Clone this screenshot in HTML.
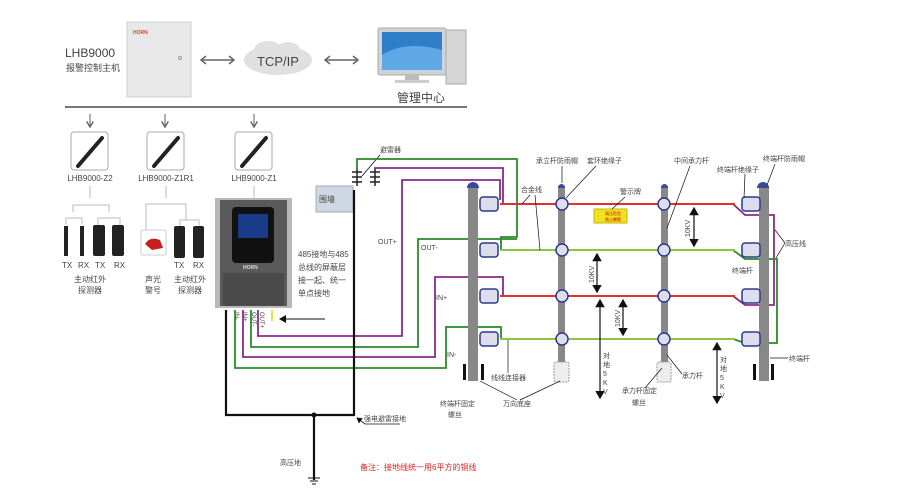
<!DOCTYPE html>
<html><head><meta charset="utf-8"><style>
html,body{margin:0;padding:0;background:#fff}
svg{display:block}
text{font-family:"Liberation Sans","Noto Sans CJK SC",sans-serif;fill:#444}
</style></head><body>
<svg width="900" height="500" viewBox="0 0 900 500" xmlns="http://www.w3.org/2000/svg">
<defs>
<marker id="ah" markerWidth="8" markerHeight="8" refX="6" refY="4" orient="auto"><path d="M0,0 L7,4 L0,8 z" fill="#111"/></marker>
<marker id="ahs" markerWidth="8" markerHeight="8" refX="1" refY="4" orient="auto"><path d="M7,0 L0,4 L7,8 z" fill="#111"/></marker>
<marker id="ga" markerWidth="6" markerHeight="6" refX="5" refY="3" orient="auto"><path d="M0,0 L5,3 L0,6" fill="none" stroke="#666" stroke-width="1.2"/></marker>
</defs>

<text x="65" y="57" font-size="12" fill="#333">LHB9000</text>
<text x="66" y="71" font-size="9" fill="#333">报警控制主机</text>
<rect x="127" y="22" width="64" height="75" fill="#e8e8e8" stroke="#d0d0d0"/>
<text x="133" y="34" font-size="5" fill="#e04020" font-weight="bold" style="fill:#e04020">HORN</text>
<circle cx="180" cy="58" r="1.5" fill="none" stroke="#999"/>
<g stroke="#666" stroke-width="1.5" fill="none">
<line x1="202" y1="60" x2="233" y2="60"/><path d="M206,56 L201,60 L206,64 M229,56 L234,60 L229,64"/>
<line x1="326" y1="60" x2="357" y2="60"/><path d="M330,56 L325,60 L330,64 M353,56 L358,60 L353,64"/>
</g>
<ellipse cx="278" cy="60" rx="34" ry="15" fill="#e0e0e0"/>
<ellipse cx="268" cy="50" rx="14" ry="9" fill="#e0e0e0"/><ellipse cx="288" cy="50" rx="12" ry="8" fill="#e0e0e0"/>
<text x="278" y="66" font-size="13" text-anchor="middle" fill="#222">TCP/IP</text>
<rect x="378" y="28" width="68" height="47" rx="2" fill="#cfd3d8" stroke="#aaa"/>
<rect x="382" y="32" width="60" height="38" fill="#2f7fc8"/>
<path d="M382,55 Q405,40 442,50 L442,70 L382,70z" fill="#5ea8e6"/>
<rect x="405" y="75" width="14" height="6" fill="#bbb"/><rect x="395" y="80" width="34" height="3" fill="#ccc"/>
<rect x="446" y="30" width="20" height="54" fill="#d6d6d6" stroke="#aaa"/>
<text x="397" y="102" font-size="12" fill="#333">管理中心</text>
<line x1="65" y1="107" x2="467" y2="107" stroke="#777" stroke-width="2"/>

<g stroke="#777" stroke-width="1.2">
<line x1="90" y1="114" x2="90" y2="127" marker-end="url(#ga)"/>
<line x1="165" y1="114" x2="165" y2="127" marker-end="url(#ga)"/>
<line x1="254" y1="114" x2="254" y2="127" marker-end="url(#ga)"/>
</g>
<g fill="#fff" stroke="#aaa">
<rect x="71" y="132" width="37" height="38" rx="3"/><rect x="147" y="132" width="37" height="38" rx="3"/><rect x="235" y="132" width="37" height="38" rx="3"/>
</g>
<g stroke="#222" stroke-width="4" stroke-linecap="round">
<line x1="78" y1="166" x2="102" y2="138"/><line x1="154" y1="166" x2="178" y2="138"/><line x1="242" y1="166" x2="266" y2="138"/>
</g>
<text x="90" y="181" font-size="8" text-anchor="middle">LHB9000-Z2</text>
<text x="166" y="181" font-size="8" text-anchor="middle">LHB9000-Z1R1</text>
<text x="254" y="181" font-size="8" text-anchor="middle">LHB9000-Z1</text>
<g stroke="#bbb" fill="none">
<path d="M90,186 V198 M73,212 V205 H109 V212 M66,225 V218 H82 V225 M98,225 V218 H120 V225"/>
<path d="M166,186 V198 M146,232 V204 H186 V220 M180,226 V220 H199 V226"/>
<path d="M254,186 V198"/>
</g>
<g fill="#222">
<rect x="64" y="226" width="4" height="30"/><rect x="80" y="226" width="4" height="30"/>
<rect x="93" y="225" width="12" height="31" rx="2"/><rect x="112" y="225" width="12" height="31" rx="2"/>
<rect x="174" y="226" width="11" height="32" rx="2"/><rect x="193" y="226" width="11" height="32" rx="2"/>
</g>
<rect x="141" y="230" width="25" height="25" rx="2" fill="#fff" stroke="#ccc"/>
<path d="M145,244 Q150,236 160,240 L163,248 L152,250z" fill="#c81e1e"/>
<g font-size="8">
<text x="62" y="268">TX</text><text x="78" y="268">RX</text><text x="95" y="268">TX</text><text x="114" y="268">RX</text>
<text x="174" y="268">TX</text><text x="193" y="268">RX</text>
<text x="90" y="282" text-anchor="middle">主动红外</text><text x="90" y="293" text-anchor="middle">探测器</text>
<text x="153" y="282" text-anchor="middle">声光</text><text x="153" y="293" text-anchor="middle">警号</text>
<text x="190" y="282" text-anchor="middle">主动红外</text><text x="190" y="293" text-anchor="middle">探测器</text>
</g>

<rect x="215" y="198" width="77" height="110" fill="#b8b8b8"/>
<rect x="220" y="200" width="67" height="106" fill="#5a5a5a"/>
<rect x="223" y="273" width="61" height="33" fill="#4a4a4a"/>
<rect x="232" y="207" width="42" height="56" rx="4" fill="#111"/>
<rect x="238" y="214" width="30" height="24" fill="#1a3a8a"/>
<text x="243" y="269" font-size="5" fill="#ddd" font-weight="bold" style="fill:#ddd">HORN</text>

<g font-size="8">
<text x="298" y="257">485接地与485</text><text x="298" y="270">总线的屏蔽层</text>
<text x="298" y="283">接一起、统一</text><text x="298" y="296">单点接地</text>
</g>
<line x1="272" y1="310" x2="272" y2="321" stroke="#e8d800" stroke-width="1.5"/>
<line x1="325" y1="319" x2="280" y2="319" stroke="#111" stroke-width="1" marker-end="url(#ah)"/>
<g font-size="6" fill="#333">
<text transform="translate(235,312) rotate(90)">IN-</text><text transform="translate(243,312) rotate(90)">IN+</text>
<text transform="translate(252,312) rotate(90)">OUT-</text><text transform="translate(260,312) rotate(90)">OUT+</text>
</g>

<rect x="316" y="186" width="37" height="26" fill="#cfd8e2" stroke="#aab"/>
<text x="319" y="202" font-size="8">围墙</text>
<text x="380" y="152" font-size="7">避雷器</text>
<line x1="380" y1="155" x2="362" y2="176" stroke="#111" stroke-width="0.8"/>
<g stroke="#222" stroke-width="1.5" fill="none">
<path d="M357,168 v18 M352,172 h10 M352,177 h10 M352,182 h10"/>
<path d="M375,168 v18 M370,172 h10 M370,177 h10 M370,182 h10"/>
</g>

<g fill="none" stroke-width="1.8">
<path d="M357,170 V159 H517 V237 H501 V250" stroke="#2a8a2a"/>
<path d="M375,170 V168 H503 V203" stroke="#8a2a8a"/>
<path d="M258,310 V336 H402 V180 H500 V200" stroke="#8a2a8a"/>
<path d="M251,310 V347 H418 V239 H517" stroke="#2a8a2a"/>
<path d="M243,310 V357 H435 V277 H503 V296" stroke="#8a2a8a"/>
<path d="M235,310 V368 H446 V327 H501 V339" stroke="#2a8a2a"/>
<path d="M733,204 L745,215 H774 V305 H745 L733,296" stroke="#8a2a8a"/>
<path d="M733,250 L745,259 H777 V343 H745 L733,339" stroke="#2a8a2a"/>
</g>
<g fill="none" stroke="#111" stroke-width="2.2">
<path d="M226,310 V415 H354 V190"/>
<path d="M314,415 V480"/>
</g>
<circle cx="314" cy="415" r="2.5" fill="#111"/>
<path d="M308,478 h12 M310,481 h8 M312,484 h4" stroke="#111" stroke-width="1"/>
<text x="280" y="465" font-size="7">高压地</text>
<text x="364" y="421" font-size="7">强电避雷接地</text>
<path d="M400,424 H365 L357,418" fill="none" stroke="#111" stroke-width="0.8" marker-end="url(#ah)"/>
<text x="360" y="470" font-size="8" style="fill:#e02020">备注：接地线统一用6平方的铜线</text>
<g font-size="7">
<text x="378" y="244">OUT+</text><text x="421" y="250">OUT-</text>
<text x="436" y="300">IN+</text><text x="447" y="357">IN-</text>
</g>

<g stroke-width="2">
<line x1="500" y1="204" x2="735" y2="204" stroke="#e03030"/>
<line x1="500" y1="250" x2="735" y2="250" stroke="#8cc63f"/>
<line x1="500" y1="296" x2="735" y2="296" stroke="#e03030"/>
<line x1="500" y1="339" x2="735" y2="339" stroke="#8cc63f"/>
</g>
<g fill="#888">
<rect x="468" y="186" width="10" height="195"/><rect x="558" y="186" width="7" height="195"/>
<rect x="661" y="186" width="7" height="195"/><rect x="759" y="186" width="10" height="195"/>
</g>
<g fill="#3a4a9a">
<path d="M467,188 a6,6 0 0 1 12,0z"/><path d="M757,188 a6,6 0 0 1 12,0z"/>
<path d="M558,188 a3.5,4 0 0 1 7,0z"/><path d="M661,188 a3.5,4 0 0 1 7,0z"/>
</g>
<g fill="#111">
<rect x="463" y="364" width="3" height="16"/><rect x="481" y="364" width="3" height="16"/>
<rect x="753" y="364" width="3" height="16"/><rect x="771" y="364" width="3" height="16"/>
</g>
<rect x="554" y="362" width="15" height="20" rx="2" fill="#eee" stroke="#999" stroke-dasharray="2,1"/>
<rect x="657" y="362" width="14" height="20" rx="2" fill="#eee" stroke="#999" stroke-dasharray="2,1"/>
<g stroke="#2a3a8a" stroke-width="1.5" fill="#dde">
<rect x="480" y="197" width="18" height="14" rx="3"/><rect x="480" y="243" width="18" height="14" rx="3"/>
<rect x="480" y="289" width="18" height="14" rx="3"/><rect x="480" y="332" width="18" height="14" rx="3"/>
<rect x="742" y="197" width="18" height="14" rx="3"/><rect x="742" y="243" width="18" height="14" rx="3"/>
<rect x="742" y="289" width="18" height="14" rx="3"/><rect x="742" y="332" width="18" height="14" rx="3"/>
<circle cx="562" cy="204" r="6"/><circle cx="562" cy="250" r="6"/><circle cx="562" cy="296" r="6"/><circle cx="562" cy="339" r="6"/>
<circle cx="664" cy="204" r="6"/><circle cx="664" cy="250" r="6"/><circle cx="664" cy="296" r="6"/><circle cx="664" cy="339" r="6"/>
</g>
<rect x="594" y="209" width="33" height="14" fill="#f0e020" stroke="#c8b800"/>
<text x="605" y="215" font-size="4" style="fill:#c00">高压危险</text>
<text x="605" y="221" font-size="4" style="fill:#c00">禁止攀爬</text>

<g stroke="#111" stroke-width="1.2" marker-end="url(#ah)" marker-start="url(#ahs)">
<line x1="694" y1="208" x2="694" y2="246"/>
<line x1="597" y1="254" x2="597" y2="292"/>
<line x1="623" y1="300" x2="623" y2="335"/>
<line x1="600" y1="300" x2="600" y2="398"/>
<line x1="717" y1="343" x2="717" y2="403"/>
</g>
<g font-size="7">
<text transform="translate(690,237) rotate(-90)">10KV</text>
<text transform="translate(594,283) rotate(-90)">10KV</text>
<text transform="translate(620,327) rotate(-90)">10KV</text>
<text x="603" y="358">对</text><text x="603" y="367">地</text><text x="603" y="376">5</text><text x="603" y="385">K</text><text x="603" y="394">V</text>
<text x="720" y="362">对</text><text x="720" y="371">地</text><text x="720" y="380">5</text><text x="720" y="389">K</text><text x="720" y="398">V</text>
</g>

<g font-size="7">
<text x="536" y="163">承立杆防雨帽</text><text x="587" y="163">套环绝缘子</text>
<text x="521" y="192">合金线</text><text x="620" y="194">警示牌</text>
<text x="674" y="163">中间承力杆</text><text x="763" y="161">终端杆防雨帽</text>
<text x="717" y="172">终端杆绝缘子</text><text x="785" y="246">高压线</text>
<text x="732" y="273">终端杆</text><text x="789" y="361">终端杆</text>
<text x="491" y="380">线线连接器</text><text x="503" y="406">万向底座</text>
<text x="440" y="406">终端杆固定</text><text x="448" y="417">螺丝</text>
<text x="622" y="393">承力杆固定</text><text x="632" y="405">螺丝</text>
<text x="682" y="378">承力杆</text>
</g>
<g stroke="#111" stroke-width="0.7" fill="none">
<line x1="562" y1="166" x2="562" y2="183"/><line x1="596" y1="166" x2="566" y2="198"/>
<line x1="530" y1="195" x2="522" y2="204"/><line x1="535" y1="195" x2="540" y2="250"/>
<line x1="625" y1="197" x2="612" y2="209"/><line x1="690" y1="166" x2="667" y2="228"/>
<line x1="775" y1="164" x2="767" y2="185"/><line x1="745" y1="174" x2="744" y2="198"/>
<line x1="785" y1="243" x2="775" y2="230"/><line x1="785" y1="243" x2="776" y2="258"/>
<line x1="788" y1="358" x2="770" y2="358"/><line x1="508" y1="373" x2="508" y2="340"/>
<line x1="517" y1="400" x2="480" y2="381"/><line x1="520" y1="400" x2="560" y2="381"/>
<line x1="645" y1="388" x2="662" y2="368"/><line x1="682" y1="374" x2="667" y2="355"/>
</g>
</svg>
</body></html>
